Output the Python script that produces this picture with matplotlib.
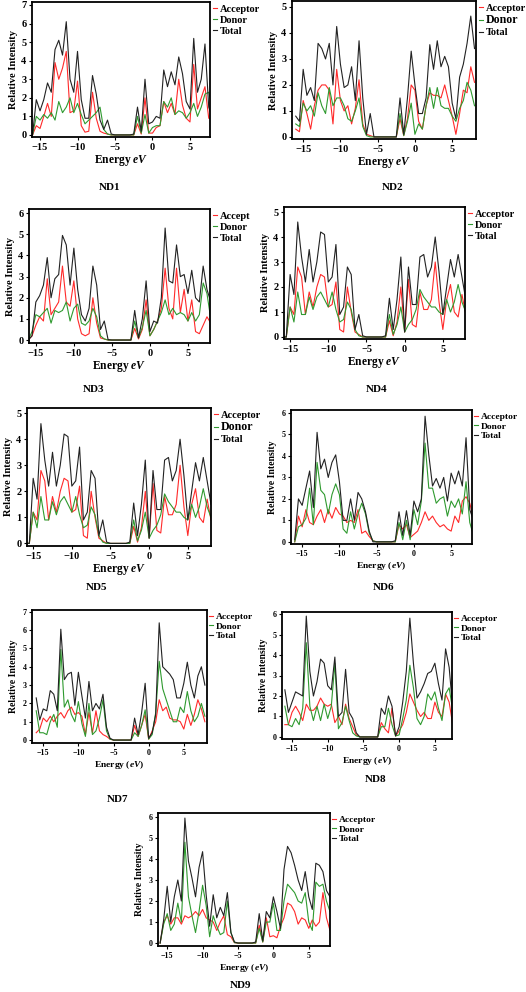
import matplotlib.pyplot as plt
from matplotlib.ticker import MultipleLocator

plt.rcParams['font.family'] = ['Liberation Serif', 'DejaVu Serif']
plt.rcParams['font.weight'] = 'bold'
plt.rcParams['mathtext.fontset'] = 'custom'
plt.rcParams['mathtext.it'] = 'Liberation Serif:italic:bold'
plt.rcParams['mathtext.rm'] = 'Liberation Serif:bold'

# energy grid (eV), values read every 0.5 eV
energy = [-16, -15.5, -15, -14.5, -14, -13.5, -13, -12.5, -12, -11.5, -11,
          -10.5, -10, -9.5, -9, -8.5, -8, -7.5, -7, -6.5, -6, -5.5,
          -5, -4.5, -4, -3.5, -3,
          -2.5, -2, -1.5, -1, -0.5, 0, 0.5, 1, 1.5, 2, 2.5, 3, 3.5, 4, 4.5,
          5, 5.5, 6, 6.5, 7, 7.5, 8]

# ND1
nd1_acc = [0.0, 0.5, 0.35, 1.0, 1.7, 1.0, 3.9, 3.0, 3.6, 4.5, 1.2, 1.3, 2.9, 0.5, 0.15, 0.2, 2.3, 0.9, 0.2, 0.1, 0.05, 0.0,
           0, 0, 0, 0, 0,
           0.0, 0.6, 0.05, 2.0, 0.1, 0.1, 0.4, 0.5, 1.8, 1.2, 1.7, 1.1, 3.0, 1.6, 0.9, 0.7, 3.8, 1.4, 2.0, 2.6, 0.9, 0.8]
nd1_don = [0.0, 1.0, 0.8, 1.1, 0.9, 1.2, 0.8, 1.8, 1.2, 1.5, 2.0, 1.2, 1.7, 1.1, 0.6, 0.8, 1.0, 1.2, 1.5, 0.3, 0.05, 0.0,
           0, 0, 0, 0, 0,
           0.0, 1.0, 0.1, 1.1, 0.1, 0.4, 0.5, 0.5, 1.8, 1.5, 2.0, 1.1, 1.3, 1.2, 0.9, 1.2, 1.7, 1.0, 1.5, 2.2, 2.3, 1.5]
nd1_tot = [0.0, 1.9, 1.3, 1.9, 2.8, 2.3, 4.6, 5.1, 4.3, 6.1, 3.0, 2.3, 4.5, 1.9, 0.9, 0.9, 3.2, 2.2, 0.8, 0.3, 0.8, 0.05,
           0, 0, 0, 0, 0,
           0.05, 1.5, 0.2, 3.0, 0.6, 0.7, 1.0, 0.9, 3.5, 2.6, 3.4, 2.7, 4.2, 3.3, 1.8, 1.4, 5.2, 2.3, 3.0, 4.9, 1.5, 0.9]

# ND2
nd2_acc = [0.3, 0.2, 1.4, 0.9, 0.3, 1.2, 1.8, 2.0, 2.0, 1.8, 0.5, 2.6, 1.4, 1.0, 1.2, 0.5, 1.1, 2.2, 0.5, 0.1, 0.05, 0.0,
           0, 0, 0, 0, 0,
           0.0, 0.7, 0.05, 0.7, 2.0, 1.8, 0.6, 0.3, 1.2, 1.7, 1.6, 1.6, 1.5, 2.0, 1.4, 0.8, 0.1, 0.9, 1.8, 1.7, 2.7, 2.1]
nd2_don = [0.5, 0.4, 1.3, 1.0, 1.2, 0.8, 1.7, 1.2, 0.9, 1.9, 1.2, 1.5, 1.5, 1.2, 0.7, 0.6, 1.0, 1.5, 0.4, 0.05, 0.0, 0.0,
           0, 0, 0, 0, 0,
           0.0, 0.9, 0.05, 0.6, 1.3, 0.1, 0.5, 0.3, 1.2, 1.9, 1.1, 1.9, 1.2, 1.1, 1.1, 0.8, 0.6, 1.1, 1.4, 2.1, 1.8, 1.2]
nd2_tot = [0.8, 0.6, 2.6, 1.6, 1.9, 1.4, 3.6, 3.4, 3.0, 3.6, 2.0, 4.25, 2.8, 1.9, 2.0, 2.7, 1.4, 3.7, 1.5, 0.1, 0.9, 0.0,
           0, 0, 0, 0, 0,
           0.0, 1.5, 0.1, 1.5, 3.3, 2.0, 0.9, 0.9, 1.5, 3.55, 2.6, 3.7, 2.7, 3.1, 2.7, 1.3, 0.7, 2.3, 2.8, 3.6, 4.65, 3.4]

# ND3
nd3_acc = [0.0, 0.2, 0.7, 1.1, 0.9, 2.9, 1.2, 1.5, 1.8, 3.5, 1.8, 1.6, 2.8, 1.0, 0.3, 0.2, 0.3, 2.0, 0.8, 0.1, 0.05, 0.0,
           0, 0, 0, 0, 0,
           0.0, 0.55, 0.05, 0.5, 1.9, 0.2, 0.5, 0.9, 1.5, 3.4, 1.5, 1.0, 3.4, 1.3, 2.4, 0.9, 1.9, 0.4, 0.3, 0.7, 1.1, 0.8]
nd3_don = [0.0, 0.4, 1.2, 1.1, 1.3, 1.5, 0.8, 1.4, 1.3, 1.4, 1.8, 0.9, 1.5, 1.7, 0.8, 0.7, 0.9, 1.5, 1.1, 0.2, 0.05, 0.0,
           0, 0, 0, 0, 0,
           0.0, 0.9, 0.1, 0.6, 1.4, 0.2, 0.5, 0.9, 1.3, 1.9, 1.2, 1.5, 1.2, 1.3, 1.2, 0.9, 1.3, 0.9, 1.2, 2.7, 2.2, 1.0]
nd3_tot = [0.0, 0.2, 1.8, 2.1, 2.6, 3.9, 2.0, 2.9, 3.1, 4.95, 4.5, 2.6, 4.35, 2.4, 1.2, 0.9, 1.5, 3.5, 2.6, 0.5, 0.9, 0.02,
           0, 0, 0, 0, 0,
           0.0, 1.4, 0.1, 1.0, 2.8, 0.4, 0.9, 0.8, 2.0, 5.3, 2.8, 2.7, 4.5, 3.0, 3.1, 2.2, 3.3, 2.0, 1.8, 3.5, 2.4, 1.8]

# ND4
nd4_acc = [0.0, 0.0, 1.2, 0.9, 2.8, 2.4, 0.9, 1.8, 1.2, 2.0, 2.5, 2.4, 1.2, 1.3, 2.2, 0.3, 0.2, 2.0, 1.0, 0.2, 0.1, 0.0,
           0, 0, 0, 0, 0,
           0.0, 0.65, 0.05, 0.6, 2.0, 0.2, 2.3, 0.5, 0.4, 1.8, 1.1, 1.1, 1.5, 3.0, 1.4, 0.3, 1.5, 2.1, 1.0, 0.8, 1.7, 0.9]
nd4_don = [0.0, 0.0, 1.2, 0.6, 1.8, 0.9, 0.9, 1.6, 1.1, 1.6, 1.8, 1.5, 1.2, 1.8, 1.1, 0.6, 0.7, 1.4, 1.1, 0.3, 0.05, 0.0,
           0, 0, 0, 0, 0,
           0.0, 0.9, 0.1, 0.5, 1.2, 0.2, 0.5, 0.7, 1.1, 1.9, 1.6, 1.4, 1.2, 1.2, 1.0, 0.9, 1.5, 1.0, 1.4, 2.1, 1.4, 1.0]
nd4_tot = [0.0, 0.0, 2.5, 1.7, 4.6, 3.2, 2.2, 3.5, 2.2, 3.0, 4.2, 4.1, 2.2, 2.4, 3.7, 0.9, 1.2, 2.8, 2.5, 0.3, 0.9, 0.05,
           0, 0, 0, 0, 0,
           0.05, 1.55, 0.3, 1.5, 3.2, 0.2, 2.8, 1.3, 1.3, 3.2, 3.3, 2.4, 2.8, 4.0, 2.6, 0.9, 2.0, 3.1, 2.4, 3.3, 2.4, 1.5]

# ND5 (same curves as ND4 in the figure)
nd5_acc = list(nd4_acc)
nd5_don = list(nd4_don)
nd5_tot = list(nd4_tot)

# ND6
nd6_acc = [0.0, 1.2, 0.7, 1.5, 0.9, 0.8, 1.2, 1.5, 0.9, 1.5, 1.1, 1.6, 1.3, 1.2, 0.9, 1.0, 0.9, 1.5, 0.4, 0.5, 0.25, 0.05,
           0, 0, 0, 0, 0,
           0.0, 0.8, 0.6, 0.8, 0.2, 0.35, 0.5, 0.9, 1.4, 1.0, 1.2, 0.9, 0.7, 0.8, 0.6, 0.5, 1.2, 0.9, 1.9, 2.1, 1.8, 1.1]
nd6_don = [0.0, 0.7, 0.8, 1.1, 2.5, 0.8, 3.7, 2.4, 2.2, 1.3, 2.2, 2.7, 2.2, 0.6, 0.4, 1.4, 0.6, 1.3, 1.8, 1.3, 0.4, 0.05,
           0, 0, 0, 0, 0,
           0.0, 0.9, 0.1, 1.0, 0.1, 1.5, 0.8, 1.9, 4.6, 2.5, 2.5, 1.8, 2.0, 2.1, 1.2, 1.9, 1.6, 2.0, 1.3, 2.8, 0.9, 0.3]
nd6_tot = [0.1, 2.0, 1.7, 2.5, 3.3, 1.6, 5.1, 3.4, 3.85, 3.0, 3.7, 4.05, 2.8, 1.0, 1.0, 2.0, 1.0, 2.3, 2.0, 1.4, 0.5, 0.0,
           0, 0, 0, 0, 0,
           0.05, 1.4, 0.3, 1.45, 0.3, 1.9, 1.4, 2.0, 5.85, 4.05, 2.6, 2.95, 2.5, 3.0, 1.9, 3.2, 2.7, 3.3, 2.6, 4.85, 1.5, 1.0]

# ND7
nd7_acc = [0.4, 0.6, 1.2, 1.0, 1.3, 1.0, 1.3, 1.5, 1.2, 1.6, 1.8, 1.4, 1.5, 1.3, 0.3, 1.5, 0.4, 1.6, 0.5, 0.3, 0.2, 0.05,
           0, 0, 0, 0, 0,
           0.0, 0.8, 0.2, 0.8, 1.4, 0.05, 0.5, 1.0, 2.2, 1.6, 1.8, 1.2, 1.1, 1.1, 1.0, 0.6, 1.4, 0.8, 1.4, 2.2, 1.7, 1.0]
nd7_don = [1.6, 0.4, 0.4, 0.3, 1.0, 1.4, 0.7, 4.95, 1.8, 2.2, 1.4, 1.0, 2.1, 0.9, 0.2, 2.0, 0.3, 0.5, 1.2, 2.2, 0.5, 0.05,
           0, 0, 0, 0, 0,
           0.0, 0.4, 0.2, 0.8, 1.65, 0.05, 0.3, 1.5, 4.3, 2.8, 2.2, 1.6, 1.0, 1.0, 1.8, 1.5, 2.65, 1.6, 1.0, 1.3, 2.0, 1.3]
nd7_tot = [2.3, 1.1, 1.7, 1.6, 2.7, 2.5, 1.6, 6.05, 3.3, 3.6, 3.7, 1.9, 3.7, 2.4, 1.2, 3.2, 1.6, 2.0, 1.7, 2.5, 0.7, 0.1,
           0, 0, 0, 0, 0,
           0.0, 1.2, 0.3, 1.5, 3.1, 0.1, 0.4, 1.4, 6.4, 4.0, 3.8, 3.6, 3.3, 2.3, 2.3, 3.1, 4.25, 3.0, 2.3, 3.5, 4.0, 3.0]

# ND8
nd8_acc = [0.6, 0.6, 1.2, 1.5, 1.2, 0.8, 1.6, 1.3, 1.3, 1.5, 1.9, 1.6, 1.5, 1.6, 0.7, 1.0, 0.6, 1.6, 0.9, 0.5, 0.1, 0.0,
           0, 0, 0, 0, 0,
           0.7, 0.4, 0.2, 1.4, 0.05, 0.3, 0.6, 1.2, 2.1, 1.7, 1.3, 1.0, 1.2, 0.9, 0.9, 1.7, 1.2, 1.0, 2.1, 1.7, 0.6, 0.6]
nd8_don = [1.5, 0.6, 0.5, 0.9, 0.6, 1.4, 4.6, 1.5, 0.8, 1.5, 0.8, 1.6, 0.9, 1.5, 3.6, 0.4, 0.7, 1.5, 0.8, 0.2, 0.05, 0.0,
           0, 0, 0, 0, 0,
           0.5, 0.5, 1.4, 0.6, 0.05, 0.1, 0.9, 1.8, 3.5, 2.4, 0.9, 0.6, 1.0, 2.1, 1.8, 2.2, 1.4, 0.8, 2.1, 2.4, 1.3, 1.3]
nd8_tot = [2.3, 1.2, 1.7, 2.2, 2.1, 2.0, 5.9, 3.2, 2.0, 2.7, 3.8, 3.6, 2.5, 2.3, 3.9, 1.0, 1.2, 3.3, 1.2, 0.9, 0.2, 0.0,
           0, 0, 0, 0, 0,
           1.4, 1.1, 2.0, 1.5, 0.05, 0.5, 1.7, 3.2, 5.8, 3.6, 1.9, 2.2, 2.6, 3.1, 3.2, 3.6, 2.6, 1.8, 4.3, 3.4, 1.4, 1.2]

# ND9
nd9_acc = [0.0, 1.0, 1.3, 0.9, 1.2, 1.2, 0.9, 1.3, 1.2, 1.3, 1.5, 1.3, 1.6, 1.2, 1.1, 1.0, 0.6, 1.0, 1.3, 0.4, 0.3, 0.02,
           0, 0, 0, 0, 0,
           0.0, 0.85, 0.05, 1.2, 0.3, 0.35, 0.25, 0.8, 1.2, 1.9, 1.8, 1.5, 0.9, 1.2, 1.1, 0.7, 1.1, 0.8, 1.0, 2.4, 1.2, 0.6]
nd9_don = [0.0, 0.9, 1.4, 0.6, 0.9, 1.9, 1.0, 4.8, 2.2, 1.3, 0.5, 1.5, 2.75, 1.8, 0.3, 1.3, 0.8, 0.4, 0.5, 2.0, 0.5, 0.02,
           0, 0, 0, 0, 0,
           0.0, 0.7, 0.05, 1.0, 1.0, 1.9, 0.6, 0.6, 2.0, 2.8, 2.6, 2.4, 2.0, 1.9, 2.4, 1.0, 0.6, 2.9, 2.7, 2.8, 2.0, 1.5]
nd9_tot = [0.0, 1.1, 2.7, 1.0, 2.2, 3.0, 2.0, 5.95, 3.9, 3.1, 2.2, 3.6, 4.35, 2.3, 0.8, 2.3, 1.2, 1.7, 1.3, 2.4, 0.5, 0.05,
           0, 0, 0, 0, 0,
           0.05, 1.4, 0.1, 1.5, 1.2, 2.2, 1.5, 0.7, 3.5, 4.6, 4.3, 3.7, 3.0, 2.5, 3.4, 2.2, 1.6, 3.8, 3.7, 3.4, 2.5, 2.2]

names = ['ND1', 'ND2', 'ND3', 'ND4', 'ND5', 'ND6', 'ND7', 'ND8', 'ND9']
acceptor = [nd1_acc, nd2_acc, nd3_acc, nd4_acc, nd5_acc, nd6_acc, nd7_acc, nd8_acc, nd9_acc]
donor = [nd1_don, nd2_don, nd3_don, nd4_don, nd5_don, nd6_don, nd7_don, nd8_don, nd9_don]
total = [nd1_tot, nd2_tot, nd3_tot, nd4_tot, nd5_tot, nd6_tot, nd7_tot, nd8_tot, nd9_tot]
acc_labels = ['Acceptor', 'Acceptor', 'Accept', 'Acceptor', 'Acceptor',
              'Acceptor', 'Acceptor', 'Acceptor', 'Acceptor']

# layout in pixels: left, top, right, bottom of each axes box
boxes = [(32, 2, 210, 137), (292, 1, 476, 139),
         (29, 209, 210, 343), (284, 207, 465, 339),
         (27, 408, 211, 546), (291, 410, 472, 544),
         (32, 610, 207, 743), (282, 612, 452, 739),
         (158, 813, 330, 946)]
xlims = [(-16.07, 7.67), (-16.5, 8.2), (-15.9, 7.9), (-15.8, 7.9), (-15.8, 8.0),
         (-16.5, 7.8), (-16.6, 8.3), (-16.4, 7.4), (-16.3, 8.0)]
ylims = [(-0.11, 7.16), (-0.08, 5.23), (-0.14, 6.2), (-0.08, 5.2), (-0.1, 5.2),
         (-0.1, 6.14), (-0.16, 7.1), (-0.1, 6.1), (-0.14, 6.19)]
title_pos = [(110, 188), (393, 188), (94, 390), (377, 390), (97, 588),
             (384, 588), (118, 800), (376, 780), (241, 986)]

W, H = 526, 992
fig = plt.figure(figsize=(W / 100, H / 100), dpi=100)

for i in range(9):
    l, t, r, b = boxes[i]
    ax = fig.add_axes([l / W, 1 - b / H, (r - l) / W, (b - t) / H])
    big = i < 5
    ax.plot(energy, acceptor[i], color='#ff2a2a', lw=0.8, label=acc_labels[i])
    ax.plot(energy, donor[i], color='#2f9a2f', lw=0.8, label='Donor')
    ax.plot(energy, total[i], color='#222222', lw=0.8, label='Total')
    ax.set_xlim(*xlims[i])
    ax.set_ylim(*ylims[i])
    ax.set_xticks([-15, -10, -5, 0, 5])
    ax.yaxis.set_major_locator(MultipleLocator(1))
    for s in ax.spines.values():
        s.set_linewidth(1.3)
    ax.tick_params(direction='out', length=2.5, width=0.8, pad=1.5,
                   labelsize=7.5 if big else 5.8)
    for lab in ax.get_xticklabels() + ax.get_yticklabels():
        lab.set_fontweight('bold')
    if big:
        ax.set_xlabel('Energy $eV$', fontsize=8.3, fontweight='bold', labelpad=1)
        ax.set_ylabel('Relative Intensity', fontsize=7.6, fontweight='bold', labelpad=2)
    else:
        ax.set_xlabel('Energy ($eV$)', fontsize=6.8, fontweight='bold', labelpad=2)
        ax.set_ylabel('Relative Intensity', fontsize=7.0, fontweight='bold', labelpad=3)
    leg = ax.legend(loc='upper left', bbox_to_anchor=(1.0, 1.0), frameon=False,
                    borderaxespad=0.15, borderpad=0.1, handlelength=0.4,
                    handletextpad=0.3, labelspacing=0.15 if big else 0.12,
                    prop={'family': 'Liberation Serif', 'weight': 'bold',
                          'size': 7.5 if big else 6.8})
    if i in (1, 4):
        leg.get_texts()[1].set_fontsize(8.6)
    fx, fy = title_pos[i]
    fig.text(fx / W, 1 - fy / H, names[i], ha='center', va='center',
             fontsize=8, fontweight='bold')

fig.savefig('out.png', dpi=100, facecolor='white')
